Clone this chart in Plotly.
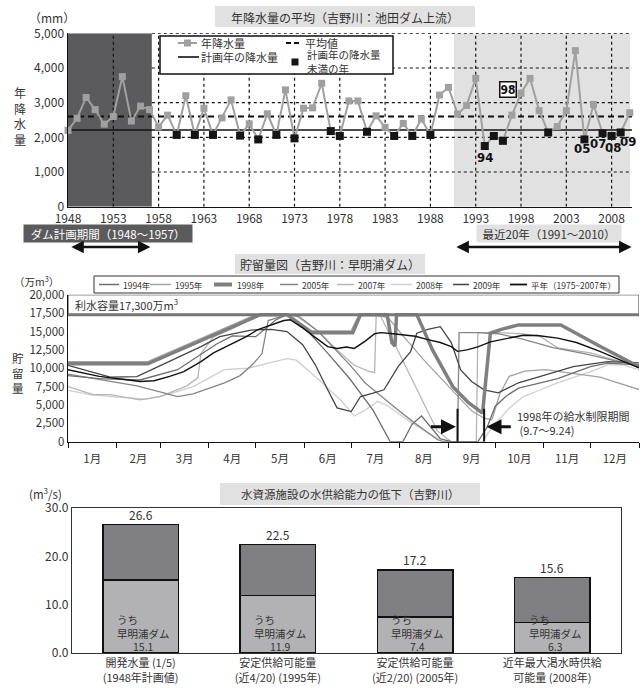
import plotly.graph_objects as go

W, H = 643, 688
FONT = "Noto Sans CJK JP, Noto Sans, DejaVu Sans"
TXT = "#333333"

# ---------------- data: annual rainfall (Ikeda dam upstream) ----------------
years = list(range(1948, 2011))
rainfall = [2200, 2550, 3150, 2800, 2380, 2600, 3750, 2470, 2900, 2800,
            2300, 2640, 2070, 3200, 2070, 2840, 2070, 2560, 3080, 2050,
            2390, 1940, 2680, 2070, 3370, 1970, 2840, 2850, 3560, 2180,
            2040, 3050, 3050, 2160, 2620, 2290, 2040, 2400, 2040, 2530,
            2070, 3220, 3440, 2670, 2920, 3700, 1750, 2040, 1900, 2640,
            3270, 3700, 2770, 2140, 2310, 2770, 4500, 1940, 2950, 2120,
            2040, 2140, 2710]
below_plan_years = [1960, 1962, 1964, 1967, 1969, 1971, 1973, 1977, 1978, 1981,
                    1984, 1986, 1988, 1994, 1995, 1996, 2001, 2005, 2007, 2008, 2009]
mean_rain = 2600
plan_rain = 2210
year_ticks = list(range(1948, 2009, 5))
rain_ticks = [0, 1000, 2000, 3000, 4000, 5000]
rain_ticktext = ["0", "1,000", "2,000", "3,000", "4,000", "5,000"]

# ---------------- data: Sameura dam storage (day of year, 10^4 m3) ----------------
month_bounds = [0, 31, 59, 90, 120, 151, 181, 212, 243, 273, 304, 334, 365]
month_labels = ["1月", "2月", "3月", "4月", "5月", "6月", "7月", "8月", "9月", "10月", "11月", "12月"]
storage_ticks = [0, 2500, 5000, 7500, 10000, 12500, 15000, 17500, 20000]
storage_ticktext = ["0", "2,500", "5,000", "7,500", "10,000", "12,500", "15,000", "17,500", "20,000"]
capacity = 17300
storage_top = 20000
restrict_start = 249   # 9/7
restrict_end = 266     # 9/24

s1994_d = [0, 20, 46, 70, 95, 105, 120, 133, 140, 150, 165, 180, 195, 206, 214, 220, 226, 232, 238, 245,
           262, 268, 273, 280, 288, 300, 313, 334, 345, 365]
s1994_v = [9000, 8600, 8400, 9800, 13300, 14400, 14300, 16600, 17300, 15800, 12300, 8600, 4300, 0, 0,
           2400, 3500, 2000, 400, 0, 0, 2000, 4800, 6200, 7300, 7900, 8600, 10230, 10700, 10460]
s1995_d = [0, 51, 120, 140, 155, 181, 186, 198, 205, 215, 228, 240, 250, 258, 266, 271, 276, 282, 292,
           305, 320, 340, 365]
s1995_v = [10900, 10900, 17300, 17300, 15100, 15100, 17300, 17300, 16800, 14200, 11000, 8200, 6000,
           4200, 3200, 3000, 6500, 8900, 9600, 9800, 9400, 8800, 7100]
s1998_d = [0, 51, 123, 140, 156, 182, 187, 204, 207, 209, 210, 223, 233, 246, 256, 263, 265, 270, 277,
           288, 315, 340, 365]
s1998_v = [10600, 10600, 17300, 17300, 14850, 14850, 17300, 17300, 13500, 13000, 17300, 17300, 12500,
           7500, 5300, 4100, 3900, 14800, 15300, 15900, 15900, 13000, 10200]
s2005_d = [0, 25, 44, 60, 70, 80, 90, 100, 110, 118, 124, 128, 140, 148, 160, 170, 180, 190, 200, 210,
           220, 228, 236, 240, 249, 250, 262, 275, 290, 310, 330, 350, 365]
s2005_v = [9200, 8300, 7600, 6700, 6150, 6500, 7200, 8000, 9000, 10500, 12000, 16500, 17300, 17000,
           15000, 12800, 10500, 8000, 6200, 4500, 2800, 1500, 300, 0, 0, 14850, 14850, 14700, 14000,
           12800, 12000, 11000, 10460]
s2007_d = [0, 16, 27, 46, 59, 76, 83, 85, 93, 106, 118, 125, 145, 160, 172, 183, 192, 196, 197, 200,
           210, 222, 236, 245, 261, 262, 275, 290, 302, 313, 334, 365]
s2007_v = [7500, 6400, 6400, 5700, 6150, 7600, 8700, 12000, 14270, 15490, 16800, 17300, 17300, 15000,
           12500, 10400, 9600, 9400, 17300, 17000, 12800, 7600, 1500, 0, 0, 14850, 14850, 14700, 14300,
           12770, 12090, 10190]
s2008_d = [0, 14, 30, 50, 65, 80, 100, 115, 130, 140, 146, 160, 175, 183, 190, 198, 205, 220, 236, 245,
           265, 270, 281, 291, 302, 313, 334, 345, 355, 365]
s2008_v = [7000, 6400, 6100, 5800, 6500, 7500, 9800, 10000, 10800, 11300, 11100, 8500, 5500, 3500,
           4300, 5500, 4800, 2500, 500, 0, 0, 1630, 4350, 6150, 7070, 8000, 9550, 10460, 10460, 9780]
s2009_d = [0, 27, 44, 65, 85, 97, 117, 130, 140, 150, 158, 166, 172, 181, 187, 195, 202, 211, 219, 223,
           230, 238, 245, 251, 258, 266, 275, 288, 302, 323, 345, 365]
s2009_v = [10400, 8800, 8850, 10900, 12950, 14300, 15200, 15300, 15000, 13200, 10500, 7070, 4600, 4100,
           6150, 6600, 7070, 10230, 12270, 14770, 15300, 15660, 13500, 9780, 8200, 7070, 6660, 8020,
           8870, 10230, 10910, 10730]
normal_d = [0, 10, 20, 35, 46, 55, 65, 74, 85, 93, 100, 106, 114, 121, 130, 138, 142, 150, 158, 166, 172,
            178, 183, 190, 196, 200, 208, 215, 222, 230, 238, 245, 249, 255, 262, 270, 280, 291, 300,
            313, 325, 340, 352, 365]
normal_v = [9800, 9300, 8900, 8500, 8200, 8300, 8900, 9550, 10900, 12090, 12800, 13450, 14300, 15220,
            15900, 16500, 16600, 15500, 14200, 12950, 12700, 12900, 12700, 13700, 14700, 14850, 14700,
            14500, 14350, 13900, 13500, 12950, 12300, 12500, 12900, 13600, 14000, 14500, 14450, 14100,
            13500, 12300, 11200, 10050]

# ---------------- data: water supply capacity (m3/s) ----------------
supply_cats = ["開発水量 (1/5)<br>(1948年計画値)", "安定供給可能量<br>(近4/20) (1995年)",
               "安定供給可能量<br>(近2/20) (2005年)", "近年最大渇水時供給<br>可能量 (2008年)"]
supply_total = [26.6, 22.5, 17.2, 15.6]
supply_sameura = [15.1, 11.9, 7.4, 6.3]
supply_ticks = [0, 10, 20, 30]
supply_ticktext = ["0.0", "10.0", "20.0", "30.0"]

# =====================================================================
def PX(x):
    return x / W


def PY(y):
    return 1 - y / H


fig = go.Figure()
shapes = []
anns = []


def ptext(x, y, text, size=12, xanchor="center", color=TXT, **kw):
    anns.append(dict(xref="paper", yref="paper", x=PX(x), y=PY(y), text=text, showarrow=False,
                     xanchor=xanchor, yanchor="middle", font=dict(family=FONT, size=size, color=color), **kw))


def pline(x0, y0, x1, y1, color="black", width=1.5, dash="solid", layer="above"):
    shapes.append(dict(type="line", xref="paper", yref="paper", x0=PX(x0), y0=PY(y0), x1=PX(x1), y1=PY(y1),
                       line=dict(color=color, width=width, dash=dash), layer=layer))


def prect(x0, y0, x1, y1, fill, line_color=None, width=0, layer="above"):
    shapes.append(dict(type="rect", xref="paper", yref="paper", x0=PX(x0), y0=PY(y1), x1=PX(x1), y1=PY(y0),
                       fillcolor=fill, line=dict(color=line_color or fill, width=width), layer=layer))


# ---------------- top chart ----------------
X_END = 2010.25
shapes.append(dict(type="rect", xref="x", yref="y", x0=1948, x1=1957.25, y0=0, y1=5000,
                   fillcolor="#5b5b5d", line=dict(width=0), layer="below"))
shapes.append(dict(type="rect", xref="x", yref="y", x0=1990.6, x1=2010.05, y0=0, y1=5000,
                   fillcolor="#e1e1e1", line=dict(width=0), layer="below"))
for yv in rain_ticks[1:]:
    shapes.append(dict(type="line", xref="x", yref="y", x0=1957.25, x1=X_END, y0=yv, y1=yv,
                       line=dict(color="#111", width=1.2, dash="dot"), layer="below"))
for xv in year_ticks[1:]:
    shapes.append(dict(type="line", xref="x", yref="y", x0=xv, x1=xv, y0=0, y1=5000,
                       line=dict(color="#111", width=1.2, dash="dot"), layer="below"))

fig.add_trace(go.Scatter(x=[1948, X_END], y=[mean_rain, mean_rain], mode="lines",
                         line=dict(color="#111", width=2, dash="6px,4px"), xaxis="x", yaxis="y",
                         hoverinfo="skip"))
fig.add_trace(go.Scatter(x=[1948, X_END], y=[plan_rain, plan_rain], mode="lines",
                         line=dict(color="#111", width=1.6), xaxis="x", yaxis="y", hoverinfo="skip"))
fig.add_trace(go.Scatter(x=years, y=rainfall, mode="lines+markers",
                         line=dict(color="#a0a0a0", width=2),
                         marker=dict(symbol="square", size=7, color="#a0a0a0"),
                         xaxis="x", yaxis="y", cliponaxis=False))
below_vals = [rainfall[years.index(yr)] for yr in below_plan_years]
fig.add_trace(go.Scatter(x=below_plan_years, y=below_vals, mode="markers",
                         marker=dict(symbol="square", size=8, color="#151515"),
                         xaxis="x", yaxis="y", cliponaxis=False))

bold = "DejaVu Sans Condensed, Liberation Sans Narrow, Arial Narrow, sans-serif"
for txt, xv, yv in [("94", 1994, 1430), ("05", 2004.7, 1690), ("07", 2006.5, 1810),
                    ("08", 2008.2, 1720), ("09", 2009.8, 1890)]:
    anns.append(dict(xref="x", yref="y", x=xv, y=yv, text="<b>" + txt + "</b>", showarrow=False,
                     font=dict(family=bold, size=13, color="#111")))
anns.append(dict(xref="x", yref="y", x=1996.6, y=3380, text="<b>98</b>", showarrow=False,
                 font=dict(family=bold, size=12, color="#111"), bordercolor="#111", borderwidth=1.5,
                 borderpad=0, bgcolor="white"))

# title box
prect(215, 6, 475, 27, "#e1e1e1", layer="below")
ptext(345, 17, "年降水量の平均（吉野川：池田ダム上流）", size=12)
ptext(52, 17, "（mm）", size=12)
ptext(20, 116, "年<br>降<br>水<br>量", size=12)

# legend
prect(160, 36, 393, 74, "white", "#111", 1.5)
pline(178, 43, 197, 43, color="#a0a0a0", width=2)
prect(184, 39.5, 191, 46.5, "#a0a0a0")
ptext(199, 43, "年降水量", size=11, xanchor="left")
pline(286, 43, 301, 43, color="#111", width=2, dash="5px,3px")
ptext(303, 43, "平均値", size=11, xanchor="left")
pline(178, 57, 199, 57, color="#111", width=1.6)
ptext(199, 57, "計画年の降水量", size=11, xanchor="left")
prect(291.5, 58.5, 298.5, 65.5, "#151515")
ptext(305, 62, "計画年の降水量<br>未満の年", size=10.5, xanchor="left", align="left")

# below-axis period boxes and arrows
ptext(108, 233, "ダム計画期間（1948～1957）", size=11.5, color="white", bgcolor="#5b5b5d",
      width=166, height=15)
ptext(549, 234, "最近20年（1991～2010）", size=11.5, color=TXT, bgcolor="#e1e1e1", width=142, height=15)
for x0, x1 in [(1948.2, 1957.1), (1990.7, 2010.2)]:
    anns.append(dict(xref="x", yref="paper", x=x1, y=PY(247), ax=x0, ay=0, axref="x",
                     text="", showarrow=True, arrowhead=2, arrowside="end+start", arrowsize=1,
                     arrowwidth=2.5, arrowcolor="#111"))

# ---------------- middle chart ----------------
series = [
    ("2008", s2008_d, s2008_v, "#cfcfcf", 1.3),
    ("2007", s2007_d, s2007_v, "#b5b5b5", 1.3),
    ("1995", s1995_d, s1995_v, "#a2a2a2", 1.3),
    ("2005", s2005_d, s2005_v, "#858585", 1.3),
    ("1994", s1994_d, s1994_v, "#6e6e6e", 1.3),
    ("2009", s2009_d, s2009_v, "#454545", 1.3),
    ("1998", s1998_d, s1998_v, "#7f7f7f", 3.5),
    ("平年", normal_d, normal_v, "#111111", 1.4),
]
for name, d, v, c, w in series:
    fig.add_trace(go.Scatter(x=d, y=v, mode="lines", name=name, line=dict(color=c, width=w),
                             xaxis="x2", yaxis="y2", cliponaxis=False))

shapes.append(dict(type="rect", xref="x2", yref="y2", x0=0, x1=365, y0=capacity, y1=storage_top,
                   line=dict(color="#333", width=1), fillcolor="rgba(0,0,0,0)", layer="above"))
shapes.append(dict(type="line", xref="x2", yref="y2", x0=0, x1=365, y0=capacity, y1=capacity,
                   line=dict(color="#777", width=3), layer="above"))
anns.append(dict(xref="x2", yref="y2", x=3, y=18700, text="利水容量17,300万m<sup>3</sup>",
                 showarrow=False, xanchor="left", font=dict(family=FONT, size=11, color=TXT)))
for dd in [restrict_start, restrict_end]:
    shapes.append(dict(type="line", xref="x2", yref="y2", x0=dd, x1=dd, y0=0, y1=4500,
                       line=dict(color="#111", width=2), layer="above"))
anns.append(dict(xref="x2", yref="y2", x=restrict_start - 1, y=2050, ax=231, ay=2050, axref="x2",
                 ayref="y2", text="", showarrow=True, arrowhead=2, arrowsize=1, arrowwidth=3,
                 arrowcolor="#111"))
anns.append(dict(xref="x2", yref="y2", x=restrict_end + 1.5, y=2050, ax=284, ay=2050, axref="x2",
                 ayref="y2", text="", showarrow=True, arrowhead=2, arrowsize=1, arrowwidth=3,
                 arrowcolor="#111"))
anns.append(dict(xref="x2", yref="y2", x=286, y=2550, text="1998年の給水制限期間<br> (9.7～9.24)",
                 showarrow=False, xanchor="left", align="left",
                 font=dict(family=FONT, size=11, color=TXT)))

prect(235, 254, 425, 274, "#e1e1e1", layer="below")
ptext(330, 264, "貯留量図（吉野川：早明浦ダム）", size=12)
ptext(36, 281, "（万m<sup>3</sup>）", size=10.5)
ptext(18, 373, "貯<br>留<br>量", size=11.5)

# legend of middle chart
prect(94, 276, 619, 293, "white", "#333", 1)
leg_pos = [(99, 119, 121), (150, 171, 173), (214, 232, 235), (280, 298, 300),
           (337, 354, 356), (391, 412, 414), (453, 469, 471), (510, 527, 529)]
leg_items = [("1994年", "#6e6e6e", 1.5), ("1995年", "#a2a2a2", 1.5), ("1998年", "#7f7f7f", 4),
             ("2005年", "#858585", 1.5), ("2007年", "#b5b5b5", 1.5), ("2008年", "#cfcfcf", 1.5),
             ("2009年", "#454545", 1.5), ("平年（1975~2007年）", "#111111", 1.8)]
for (k0, k1, tx), (lbl, c, w) in zip(leg_pos, leg_items):
    pline(k0, 284.5, k1, 284.5, color=c, width=w)
    ptext(tx, 284.5, lbl, size=8.5, xanchor="left")

# ---------------- bottom chart ----------------
xs = list(range(len(supply_cats)))
upper = [round(t - s, 1) for t, s in zip(supply_total, supply_sameura)]
fig.add_trace(go.Bar(x=xs, y=supply_sameura, width=0.55,
                     marker=dict(color="#b2b2b5", line=dict(color="#111", width=1.5)),
                     xaxis="x3", yaxis="y3"))
fig.add_trace(go.Bar(x=xs, y=upper, width=0.55,
                     marker=dict(color="#808084", line=dict(color="#111", width=1.5)),
                     xaxis="x3", yaxis="y3"))
for i, (t, s) in enumerate(zip(supply_total, supply_sameura)):
    anns.append(dict(xref="x3", yref="y3", x=i, y=t, yshift=10, text=f"{t:.1f}", showarrow=False,
                     font=dict(family=FONT, size=12, color=TXT)))
    anns.append(dict(xref="x3", yref="y3", x=i + 0.02, y=4.1,
                     text="うち　　　<br>早明浦ダム<br>" + f"{s:.1f}", showarrow=False, align="center",
                     font=dict(family=FONT, size=10.5, color=TXT)))

prect(220, 483, 480, 505, "#e1e1e1", layer="below")
ptext(350, 494, "水資源施設の水供給能力の低下（吉野川）", size=11.5)
ptext(45, 493, "(m<sup>3</sup>/s)", size=11.5)

# ---------------- layout ----------------
tickfont = dict(family=FONT, size=12, color=TXT)
fig.update_layout(
    width=W, height=H, autosize=False, margin=dict(l=0, r=0, t=0, b=0, autoexpand=False),
    paper_bgcolor="white", plot_bgcolor="white", showlegend=False, barmode="stack", bargap=0.45,
    font=dict(family=FONT, color=TXT), hovermode=False,
    xaxis=dict(domain=[PX(68), PX(632)], anchor="y", range=[1948, X_END], tickvals=year_ticks,
               showgrid=False, zeroline=False, showline=True, linecolor="#111", linewidth=1.5,
               ticks="", tickfont=tickfont, automargin=False),
    yaxis=dict(domain=[PY(206.7), PY(33.3)], anchor="x", range=[0, 5000], tickvals=rain_ticks,
               ticktext=rain_ticktext, showgrid=False, zeroline=False, showline=True, linecolor="#111",
               linewidth=1.5, ticks="", tickfont=tickfont, automargin=False),
    xaxis2=dict(domain=[PX(68), PX(639)], anchor="y2", range=[0, 365],
                tickvals=[(month_bounds[i] + month_bounds[i + 1]) / 2 for i in range(12)],
                ticktext=month_labels, ticks="", showgrid=False, zeroline=False, showline=True,
                linecolor="#111", linewidth=1.2, tickfont=dict(family=FONT, size=11.5, color=TXT),
                ticklabelstandoff=6, automargin=False,
                minor=dict(tickmode="array", tickvals=month_bounds, ticks="outside", ticklen=5,
                           tickcolor="#111", tickwidth=1, showgrid=False)),
    yaxis2=dict(domain=[PY(441.7), PY(294.8)], anchor="x2", range=[0, storage_top],
                tickvals=storage_ticks, ticktext=storage_ticktext, showgrid=False, zeroline=False,
                showline=True, linecolor="#111", linewidth=1.2, ticks="", automargin=False,
                tickfont=dict(family=FONT, size=11.5, color=TXT)),
    xaxis3=dict(domain=[PX(72), PX(621)], anchor="y3", range=[-0.5, 3.5], tickvals=xs,
                ticktext=supply_cats, showgrid=False, zeroline=False, showline=True, mirror=True,
                linecolor="#333", linewidth=1.2, ticks="", automargin=False,
                tickfont=dict(family=FONT, size=11, color=TXT)),
    yaxis3=dict(domain=[PY(653), PY(508)], anchor="x3", range=[0, 30], tickvals=supply_ticks,
                ticktext=supply_ticktext, showgrid=False, zeroline=False, showline=True, mirror=True,
                linecolor="#333", linewidth=1.2, ticks="", tickfont=tickfont, automargin=False),
    shapes=shapes, annotations=anns,
)

fig.write_html("out.html", config={"displayModeBar": False, "staticPlot": True},
               post_script="document.body.style.margin='0px';document.body.style.overflow='hidden';")
